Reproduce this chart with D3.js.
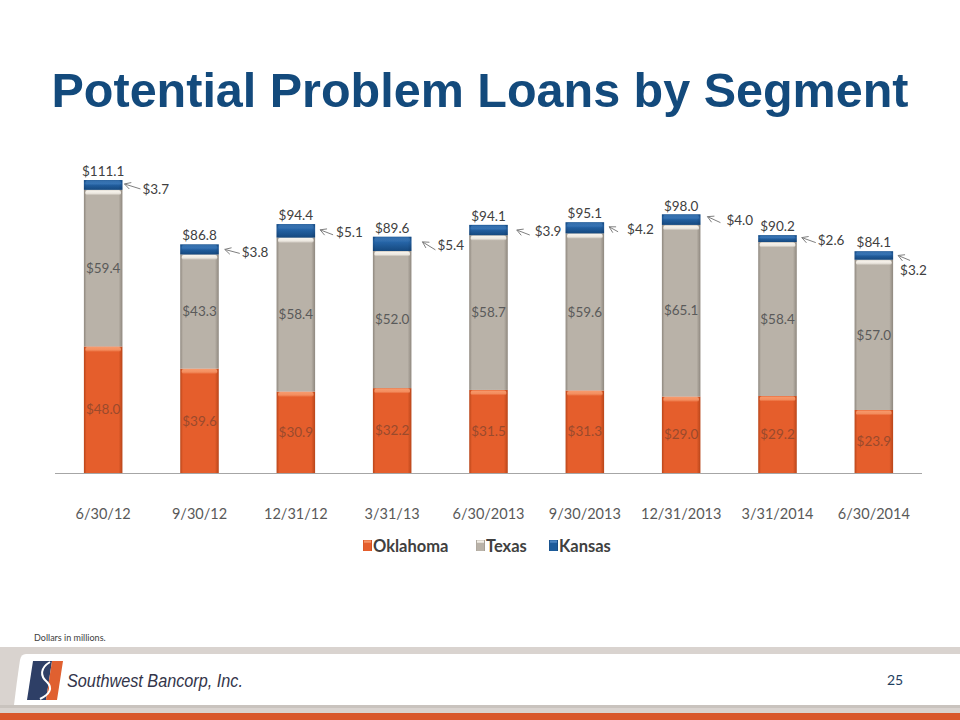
<!DOCTYPE html>
<html>
<head>
<meta charset="utf-8">
<script src="https://cdn.jsdelivr.net/npm/d3@7/dist/d3.min.js"></script>
<style>
  html, body { margin: 0; padding: 0; background: #fff; }
  svg { display: block; }
</style>
</head>
<body>
<svg id="chart" width="960" height="720"></svg>
<script>
// ---------- data ----------
const categories = ["6/30/12", "9/30/12", "12/31/12", "3/31/13", "6/30/2013", "9/30/2013", "12/31/2013", "3/31/2014", "6/30/2014"];
const oklahoma = [48.0, 39.6, 30.9, 32.2, 31.5, 31.3, 29.0, 29.2, 23.9];
const texas    = [59.4, 43.3, 58.4, 52.0, 58.7, 59.6, 65.1, 58.4, 57.0];
const kansas   = [3.7, 3.8, 5.1, 5.4, 3.9, 4.2, 4.0, 2.6, 3.2];
const totals   = [111.1, 86.8, 94.4, 89.6, 94.1, 95.1, 98.0, 90.2, 84.1];
const seriesNames = ["Oklahoma", "Texas", "Kansas"];

// ---------- layout (label callout offsets for Kansas values) ----------
const kansasCallout = [
  {hx: 2, hy: -1, tx: 18, ty: 4, lx: 20, ly: 4},
  {hx: 6, hy: 0, tx: 21, ty: 4, lx: 23, ly: 3},
  {hx: 5, hy: -1, tx: 18, ty: 4, lx: 21, ly: 1},
  {hx: 11, hy: -2, tx: 24, ty: 6, lx: 26, ly: 1},
  {hx: 9, hy: 0, tx: 22, ty: 5, lx: 27, ly: 1},
  {hx: 5, hy: -1, tx: 14, ty: 4, lx: 23, ly: 1},
  {hx: 7, hy: -3, tx: 20, ty: 3, lx: 26, ly: 1},
  {hx: 5, hy: -1, tx: 19, ty: 4, lx: 21, ly: 2},
  {hx: 5, hy: 0, tx: 17, ty: 5, lx: 7, ly: 15}
];

const colors = {
  Oklahoma: {base: "#E55E2C", dark: "#B84519", light: "#F79A6C", label: "#9A4A2C"},
  Texas:    {base: "#B9B2A8", dark: "#8E877E", light: "#F9F5EE", label: "#5A5A5A"},
  Kansas:   {base: "#1C5B9A", dark: "#0F3A68", light: "#4F88C4", label: "#404040"}
};

const svg = d3.select("#chart");
const defs = svg.append("defs");

// gradients
seriesNames.forEach(name => {
  const c = colors[name];
  const g = defs.append("linearGradient").attr("id", "h-" + name)
    .attr("x1", "0").attr("x2", "1").attr("y1", "0").attr("y2", "0");
  g.append("stop").attr("offset", "0%").attr("stop-color", c.dark);
  g.append("stop").attr("offset", "7%").attr("stop-color", c.base);
  g.append("stop").attr("offset", "90%").attr("stop-color", c.base);
  g.append("stop").attr("offset", "100%").attr("stop-color", c.dark);
  const v = defs.append("linearGradient").attr("id", "v-" + name)
    .attr("x1", "0").attr("x2", "0").attr("y1", "0").attr("y2", "1");
  v.append("stop").attr("offset", "0%").attr("stop-color", c.light).attr("stop-opacity", 1);
  v.append("stop").attr("offset", "60%").attr("stop-color", c.light).attr("stop-opacity", 0.8);
  v.append("stop").attr("offset", "100%").attr("stop-color", c.light).attr("stop-opacity", 0);
});
const kv = defs.append("linearGradient").attr("id", "kansasV")
  .attr("x1", "0").attr("x2", "0").attr("y1", "0").attr("y2", "1");
kv.append("stop").attr("offset", "0%").attr("stop-color", "#164F8C");
kv.append("stop").attr("offset", "35%").attr("stop-color", "#2C6BB0");
kv.append("stop").attr("offset", "100%").attr("stop-color", "#123F70");

// ---------- title ----------
svg.append("text")
  .attr("x", 480).attr("y", 107)
  .attr("text-anchor", "middle")
  .attr("font-family", "'Liberation Sans', Arial, sans-serif")
  .attr("font-weight", "bold")
  .attr("font-size", 48.5)
  .attr("fill", "#134A7C")
  .text("Potential Problem Loans by Segment");

// ---------- scales ----------
const x = d3.scaleBand().domain(categories).range([55, 922]).paddingInner(0.6).paddingOuter(0.3);
const y = d3.scaleLinear().domain([0, 120]).range([473, 156.6]);

const stackData = categories.map((c, i) => ({cat: c, Oklahoma: oklahoma[i], Texas: texas[i], Kansas: kansas[i]}));
const stacked = d3.stack().keys(seriesNames)(stackData);

const font = "Lato, 'Open Sans', sans-serif";

// ---------- bars ----------
const gBars = svg.append("g");
stacked.forEach(layer => {
  const name = layer.key;
  const g = gBars.append("g");
  layer.forEach((d, i) => {
    const x0 = x(categories[i]);
    const w = x.bandwidth();
    const yTop = y(d[1]), yBot = y(d[0]);
    const h = yBot - yTop;
    g.append("rect").attr("x", x0).attr("y", yTop).attr("width", w).attr("height", h)
      .attr("fill", name === "Kansas" ? "url(#kansasV)" : "url(#h-" + name + ")");
    if (name === "Kansas") {
      g.append("rect").attr("x", x0).attr("y", yTop).attr("width", w).attr("height", h)
        .attr("fill", "url(#h-Kansas)").attr("opacity", 0.35);
    }
    // bevel highlight at top
    const hh = Math.min(5, h * 0.5);
    g.append("rect").attr("x", x0 + 1.5).attr("y", yTop + 0.5).attr("width", w - 3).attr("height", hh)
      .attr("rx", 2)
      .attr("fill", "url(#v-" + name + ")").attr("opacity", name === "Kansas" ? 0.5 : 1);
  });
});

// ---------- baseline ----------
svg.append("line").attr("x1", 55).attr("x2", 922).attr("y1", y(0) + 0.5).attr("y2", y(0) + 0.5)
  .attr("stroke", "#A6A6A6").attr("stroke-width", 1.2);

// ---------- x axis labels ----------
const xAxis = d3.axisBottom(x).tickSize(0).tickPadding(0);
const ax = svg.append("g").attr("transform", `translate(0, ${y(0) + 46})`).call(xAxis);
ax.select(".domain").remove();
ax.selectAll("text")
  .attr("font-family", font).attr("font-size", 14.5).attr("fill", "#595959")
  .attr("dy", "0");

// ---------- value labels ----------
const gLab = svg.append("g").attr("font-family", font).attr("font-size", 13.5);
// Oklahoma & Texas inside segments
["Oklahoma", "Texas"].forEach(name => {
  const layer = stacked.find(l => l.key === name);
  layer.forEach((d, i) => {
    gLab.append("text")
      .attr("x", x(categories[i]) + x.bandwidth() / 2)
      .attr("y", (y(d[0]) + y(d[1])) / 2)
      .attr("dy", "0.35em").attr("text-anchor", "middle")
      .attr("fill", colors[name].label)
      .text("$" + d.data[name].toFixed(1));
  });
});
// totals above bars
totals.forEach((t, i) => {
  gLab.append("text")
    .attr("x", x(categories[i]) + x.bandwidth() / 2)
    .attr("y", y(t) - 4)
    .attr("text-anchor", "middle").attr("fill", "#404040")
    .text("$" + t.toFixed(1));
});
// Kansas callouts
const kLayer = stacked.find(l => l.key === "Kansas");
kLayer.forEach((d, i) => {
  const o = kansasCallout[i];
  const rx = x(categories[i]) + x.bandwidth();
  const my = (y(d[0]) + y(d[1])) / 2;
  const hx = rx + o.hx, hy = my + o.hy, tx = rx + o.tx, ty = my + o.ty;
  const ang = Math.atan2(ty - hy, tx - hx);
  const al = 7, spread = 0.5;
  const a1x = hx + al * Math.cos(ang - spread), a1y = hy + al * Math.sin(ang - spread);
  const a2x = hx + al * Math.cos(ang + spread), a2y = hy + al * Math.sin(ang + spread);
  svg.append("path")
    .attr("d", `M${tx},${ty}L${hx},${hy}M${a1x},${a1y}L${hx},${hy}L${a2x},${a2y}`)
    .attr("stroke", "#7F7F7F").attr("stroke-width", 1).attr("fill", "none");
  gLab.append("text")
    .attr("x", rx + o.lx).attr("y", my + o.ly).attr("dy", "0.35em")
    .attr("fill", "#404040")
    .text("$" + d.data.Kansas.toFixed(1));
});

// ---------- legend ----------
const legendX = [363, 476, 549];
const lg = svg.append("g");
seriesNames.forEach((name, i) => {
  lg.append("rect").attr("x", legendX[i]).attr("y", 540).attr("width", 9).attr("height", 11)
    .attr("fill", "url(#h-" + name + ")");
  lg.append("rect").attr("x", legendX[i] + 1).attr("y", 540.5).attr("width", 7).attr("height", 3)
    .attr("fill", "url(#v-" + name + ")");
  lg.append("text").attr("x", legendX[i] + 10).attr("y", 551.5)
    .attr("font-family", font).attr("font-weight", "bold").attr("font-size", 16.5)
    .attr("fill", "#404040").text(name);
});

// ---------- footer ----------
svg.append("text").attr("x", 34).attr("y", 641)
  .attr("font-family", font).attr("font-size", 9).attr("fill", "#404040")
  .text("Dollars in millions.");
svg.append("rect").attr("x", 0).attr("y", 647).attr("width", 960).attr("height", 68).attr("fill", "#D9D3CF");
svg.append("path").attr("d", "M26,654 L960,654 L960,705 L14,705 Q17,680 20,660 Q21,654 26,654 Z").attr("fill", "#FFFFFF");
svg.append("rect").attr("x", 0).attr("y", 705).attr("width", 960).attr("height", 3).attr("fill", "#C9C3BE");
svg.append("rect").attr("x", 0).attr("y", 713).attr("width", 960).attr("height", 7).attr("fill", "#D9572B");
// logo
svg.append("path").attr("d", "M33,661 L52,661 L46,700 L27,700 Z").attr("fill", "#2E3F66");
svg.append("path").attr("d", "M52,661 L63,661 L57,700 L46,700 Z").attr("fill", "#E06030");
svg.append("path").attr("d", "M50,662 C40,668 40,676 47,682 C53,688 50,694 40,699")
  .attr("stroke", "#FFFFFF").attr("stroke-width", 2).attr("fill", "none");
svg.append("text").attr("x", 67).attr("y", 687)
  .attr("font-family", "'Liberation Sans', Arial, sans-serif").attr("font-style", "italic")
  .attr("font-size", 19).attr("fill", "#33354A")
  .attr("textLength", 176).attr("lengthAdjust", "spacingAndGlyphs")
  .text("Southwest Bancorp, Inc.");
svg.append("text").attr("x", 887).attr("y", 685)
  .attr("font-family", font).attr("font-size", 14).attr("fill", "#1F3F5F")
  .text("25");
</script>
</body>
</html>
